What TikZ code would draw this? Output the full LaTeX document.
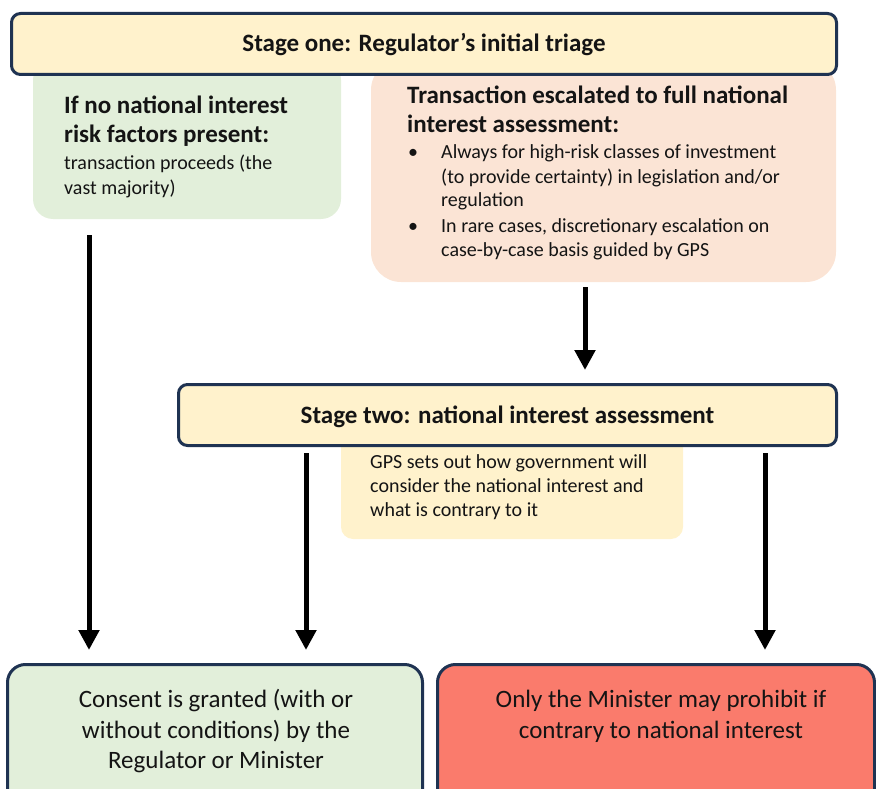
\documentclass[tikz,border=0pt]{standalone}
\usepackage{fontspec}
\setmainfont{Carlito}
\usetikzlibrary{arrows.meta}
\definecolor{navy}{HTML}{1F3352}
\definecolor{cream}{HTML}{FFF2CC}
\definecolor{lgreen}{HTML}{E2EFDA}
\definecolor{peach}{HTML}{FBE4D5}
\definecolor{salmon}{HTML}{FA7B6C}
\definecolor{ink}{HTML}{141414}
\begin{document}
\begin{tikzpicture}[x=1pt,y=-1pt,
  frame/.style={draw=navy, line width=3pt, rounded corners=9pt, inner sep=0pt},
  softbox/.style={inner sep=0pt},
  hdr/.style={inner sep=0pt, text=ink, font=\fontsize{25}{30}\selectfont\bfseries},
  bodytxt/.style={inner sep=0pt, text=ink, font=\fontsize{20}{24}\selectfont},
  bigtxt/.style={inner sep=0pt, text=ink, font=\fontsize{25}{30}\selectfont},
  arr/.style={line width=5pt, -{Triangle[width=20pt,length=20pt]}}]
\useasboundingbox (0,0) rectangle (876,789);
% soft boxes under stage one
\node[softbox, fill=lgreen, rounded corners=20pt, minimum width=308pt, minimum height=159pt] (green) at (187,139.5) {};
\node[softbox, fill=peach, rounded corners=30pt, minimum width=465pt, minimum height=222pt] (peachbox) at (603.5,171) {};
% stage one
\node[frame, fill=cream, minimum width=825pt, minimum height=61pt] (s1) at (424,44) {};
\node[hdr, anchor=base] (s1t) at (424,52) {Stage one: Regulator’s initial triage};
% green text
\node[hdr, anchor=base west] (g1) at (64,114) {If no national interest};
\node[hdr, anchor=base west] (g2) at (64,143) {risk factors present:};
\node[bodytxt, anchor=base west] (g3) at (64,170) {transaction proceeds (the};
\node[bodytxt, anchor=base west] (g4) at (64,195) {vast majority)};
% peach text
\node[hdr, anchor=base west] (p1) at (407,104) {Transaction escalated to full national};
\node[hdr, anchor=base west] (p2) at (407,133) {interest assessment:};
\node[bodytxt, anchor=base west] (b1) at (408,159) {•};
\node[bodytxt, anchor=base west] (p3) at (441,159) {Always for high-risk classes of investment};
\node[bodytxt, anchor=base west] (p4) at (441,183) {(to provide certainty) in legislation and/or};
\node[bodytxt, anchor=base west] (p5) at (441,207) {regulation};
\node[bodytxt, anchor=base west] (b2) at (408,232) {•};
\node[bodytxt, anchor=base west] (p6) at (441,232) {In rare cases, discretionary escalation on};
\node[bodytxt, anchor=base west] (p7) at (441,256) {case-by-case basis guided by GPS};
% GPS box under stage two
\node[softbox, fill=cream, rounded corners=12pt, minimum width=342pt, minimum height=109pt] (gps) at (512,484.5) {};
\node[bodytxt, anchor=base west] (q1) at (370,468) {GPS sets out how government will};
\node[bodytxt, anchor=base west] (q2) at (370,492) {consider the national interest and};
\node[bodytxt, anchor=base west] (q3) at (370,516) {what is contrary to it};
% stage two
\node[frame, fill=cream, minimum width=658pt, minimum height=61pt] (s2) at (507.5,415) {};
\node[hdr, anchor=base] (s2t) at (507.5,423) {Stage two: national interest assessment};
% bottom boxes
\node[frame, fill=lgreen, rounded corners=18pt, minimum width=415pt, minimum height=156pt] (cl) at (215,742.5) {};
\node[bigtxt, anchor=base] (c1t) at (216,707) {Consent is granted (with or};
\node[bigtxt, anchor=base] (c2t) at (216,738) {without conditions) by the};
\node[bigtxt, anchor=base] (c3t) at (216,768) {Regulator or Minister};
\node[frame, fill=salmon, rounded corners=18pt, minimum width=437pt, minimum height=156pt] (cr) at (656,742.5) {};
\node[bigtxt, anchor=base] (r1t) at (661,707) {Only the Minister may prohibit if};
\node[bigtxt, anchor=base] (r2t) at (661,738) {contrary to national interest};
% arrows
\coordinate (x1) at (89,0);
\coordinate (x2) at (585,0);
\coordinate (x3) at (306,0);
\coordinate (x4) at (765,0);
\draw[arr, shorten <=16pt, shorten >=13pt] (green.south -| x1) -- (cl.north -| x1);
\draw[arr, shorten <=5pt, shorten >=13pt] (peachbox.south -| x2) -- (s2.north -| x2);
\draw[arr, shorten <=6pt, shorten >=13pt] (s2.south -| x3) -- (cl.north -| x3);
\draw[arr, shorten <=6pt, shorten >=13pt] (s2.south -| x4) -- (cr.north -| x4);
\end{tikzpicture}
\end{document}
